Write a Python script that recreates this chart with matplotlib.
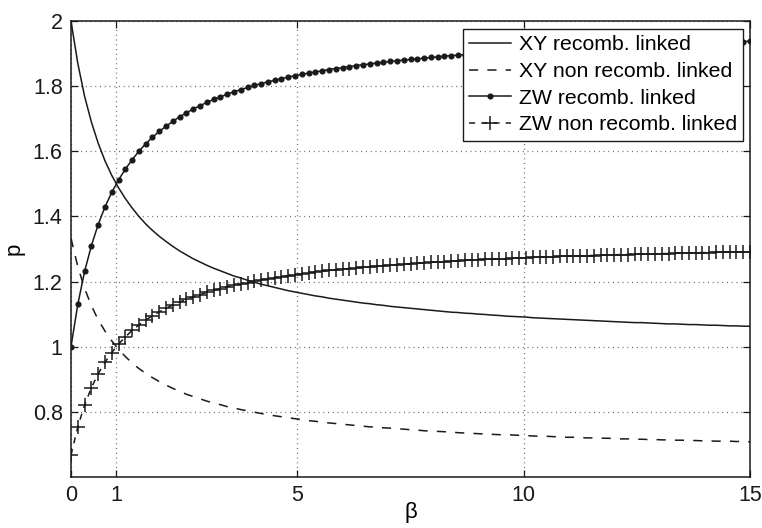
import matplotlib
matplotlib.use("Agg")
import matplotlib.pyplot as plt
from matplotlib.ticker import FuncFormatter

plt.rcParams['font.family'] = ['Liberation Sans', 'DejaVu Sans']

beta = [0.00, 0.15, 0.30, 0.45, 0.60, 0.75, 0.90, 1.05, 1.20, 1.35,
        1.50, 1.65, 1.80, 1.95, 2.10, 2.25, 2.40, 2.55, 2.70, 2.85,
        3.00, 3.15, 3.30, 3.45, 3.60, 3.75, 3.90, 4.05, 4.20, 4.35,
        4.50, 4.65, 4.80, 4.95, 5.10, 5.25, 5.40, 5.55, 5.70, 5.85,
        6.00, 6.15, 6.30, 6.45, 6.60, 6.75, 6.90, 7.05, 7.20, 7.35,
        7.50, 7.65, 7.80, 7.95, 8.10, 8.25, 8.40, 8.55, 8.70, 8.85,
        9.00, 9.15, 9.30, 9.45, 9.60, 9.75, 9.90, 10.05, 10.20, 10.35,
        10.50, 10.65, 10.80, 10.95, 11.10, 11.25, 11.40, 11.55, 11.70, 11.85,
        12.00, 12.15, 12.30, 12.45, 12.60, 12.75, 12.90, 13.05, 13.20, 13.35,
        13.50, 13.65, 13.80, 13.95, 14.10, 14.25, 14.40, 14.55, 14.70, 14.85,
        15.00]

xy_recomb = [2.000, 1.870, 1.769, 1.690, 1.625, 1.571, 1.526, 1.488, 1.455, 1.426,
             1.400, 1.377, 1.357, 1.339, 1.323, 1.308, 1.294, 1.282, 1.270, 1.260,
             1.250, 1.241, 1.233, 1.225, 1.217, 1.211, 1.204, 1.198, 1.192, 1.187,
             1.182, 1.177, 1.172, 1.168, 1.164, 1.160, 1.156, 1.153, 1.149, 1.146,
             1.143, 1.140, 1.137, 1.134, 1.132, 1.129, 1.127, 1.124, 1.122, 1.120,
             1.118, 1.116, 1.114, 1.112, 1.110, 1.108, 1.106, 1.105, 1.103, 1.102,
             1.100, 1.099, 1.097, 1.096, 1.094, 1.093, 1.092, 1.091, 1.089, 1.088,
             1.087, 1.086, 1.085, 1.084, 1.083, 1.082, 1.081, 1.080, 1.079, 1.078,
             1.077, 1.076, 1.075, 1.074, 1.074, 1.073, 1.072, 1.071, 1.070, 1.070,
             1.069, 1.068, 1.068, 1.067, 1.066, 1.066, 1.065, 1.064, 1.064, 1.063,
             1.063]

xy_nonrecomb = [1.333, 1.246, 1.179, 1.126, 1.083, 1.048, 1.018, 0.992, 0.970, 0.950,
                0.933, 0.918, 0.905, 0.893, 0.882, 0.872, 0.863, 0.854, 0.847, 0.840,
                0.833, 0.827, 0.822, 0.816, 0.812, 0.807, 0.803, 0.799, 0.795, 0.791,
                0.788, 0.785, 0.782, 0.779, 0.776, 0.773, 0.771, 0.768, 0.766, 0.764,
                0.762, 0.760, 0.758, 0.756, 0.754, 0.753, 0.751, 0.750, 0.748, 0.747,
                0.745, 0.744, 0.742, 0.741, 0.740, 0.739, 0.738, 0.736, 0.735, 0.734,
                0.733, 0.732, 0.731, 0.730, 0.730, 0.729, 0.728, 0.727, 0.726, 0.725,
                0.725, 0.724, 0.723, 0.722, 0.722, 0.721, 0.720, 0.720, 0.719, 0.719,
                0.718, 0.717, 0.717, 0.716, 0.716, 0.715, 0.715, 0.714, 0.714, 0.713,
                0.713, 0.712, 0.712, 0.711, 0.711, 0.710, 0.710, 0.710, 0.709, 0.709,
                0.708]

zw_recomb = [1.000, 1.130, 1.231, 1.310, 1.375, 1.429, 1.474, 1.512, 1.545, 1.574,
             1.600, 1.623, 1.643, 1.661, 1.677, 1.692, 1.706, 1.718, 1.730, 1.740,
             1.750, 1.759, 1.767, 1.775, 1.783, 1.789, 1.796, 1.802, 1.808, 1.813,
             1.818, 1.823, 1.828, 1.832, 1.836, 1.840, 1.844, 1.847, 1.851, 1.854,
             1.857, 1.860, 1.863, 1.866, 1.868, 1.871, 1.873, 1.876, 1.878, 1.880,
             1.882, 1.884, 1.886, 1.888, 1.890, 1.892, 1.894, 1.895, 1.897, 1.898,
             1.900, 1.901, 1.903, 1.904, 1.906, 1.907, 1.908, 1.910, 1.911, 1.912,
             1.913, 1.914, 1.915, 1.916, 1.917, 1.918, 1.919, 1.920, 1.921, 1.922,
             1.923, 1.924, 1.925, 1.926, 1.926, 1.927, 1.928, 1.929, 1.930, 1.930,
             1.931, 1.932, 1.932, 1.933, 1.934, 1.934, 1.935, 1.936, 1.936, 1.937,
             1.938]

zw_nonrecomb = [0.667, 0.754, 0.821, 0.874, 0.917, 0.952, 0.982, 1.008, 1.030, 1.050,
                1.067, 1.082, 1.095, 1.107, 1.118, 1.128, 1.137, 1.146, 1.153, 1.160,
                1.167, 1.173, 1.178, 1.184, 1.188, 1.193, 1.197, 1.201, 1.205, 1.209,
                1.212, 1.215, 1.218, 1.221, 1.224, 1.227, 1.229, 1.232, 1.234, 1.236,
                1.238, 1.240, 1.242, 1.244, 1.246, 1.247, 1.249, 1.251, 1.252, 1.254,
                1.255, 1.256, 1.258, 1.259, 1.260, 1.261, 1.262, 1.264, 1.265, 1.266,
                1.267, 1.268, 1.269, 1.270, 1.270, 1.271, 1.272, 1.273, 1.274, 1.275,
                1.275, 1.276, 1.277, 1.278, 1.278, 1.279, 1.280, 1.280, 1.281, 1.281,
                1.282, 1.283, 1.283, 1.284, 1.284, 1.285, 1.285, 1.286, 1.286, 1.287,
                1.287, 1.288, 1.288, 1.289, 1.289, 1.290, 1.290, 1.290, 1.291, 1.291,
                1.292]

labels = ["XY recomb. linked", "XY non recomb. linked",
          "ZW recomb. linked", "ZW non recomb. linked"]
xticks = [0, 1, 5, 10, 15]
yticks = [0.8, 1.0, 1.2, 1.4, 1.6, 1.8, 2.0]

fig = plt.figure(figsize=(7.62, 5.28), dpi=100)
ax = fig.add_axes([71/762, 1 - 477/528, (750-71)/762, (477-21)/528])

lc = '#1a1a1a'
ax.plot(beta, xy_recomb, '-', color=lc, lw=1.1, label=labels[0])
ax.plot(beta, xy_nonrecomb, color=lc, lw=1.1, dashes=(6, 6), label=labels[1])
ax.plot(beta, zw_recomb, '-', color=lc, lw=1.1, marker='o', markersize=3.4,
        label=labels[2])
ax.plot(beta, zw_nonrecomb, color=lc, lw=1.1, dashes=(4, 4), marker='+',
        markersize=10, markeredgewidth=1.1, label=labels[3])

ax.set_xlim(0, 15)
ax.set_ylim(0.6, 2.0)
ax.set_xticks(xticks)
ax.set_yticks(yticks)
ax.yaxis.set_major_formatter(FuncFormatter(lambda v, p: '%g' % round(v, 3)))
ax.grid(True, color='#666666', linestyle=(0, (0.8, 3.0)), linewidth=0.9)
ax.tick_params(direction='in', top=True, right=True, length=5, width=0.9,
               labelsize=15.5, pad=6, colors='#1a1a1a')
for s in ax.spines.values():
    s.set_linewidth(1.1)
    s.set_color('#1a1a1a')

ax.set_xlabel('β', fontsize=16, labelpad=-3)
ax.set_ylabel('p', fontsize=16, labelpad=6)

leg = ax.legend(loc='upper right', bbox_to_anchor=(0.9897, 0.9825),
                borderaxespad=0, fontsize=15.3, fancybox=False, framealpha=1,
                edgecolor='#1a1a1a', handlelength=2.0, handletextpad=0.33,
                labelspacing=0.36, borderpad=0.3)
leg.get_frame().set_linewidth(1.0)

fig.savefig('out.png', dpi=100)
